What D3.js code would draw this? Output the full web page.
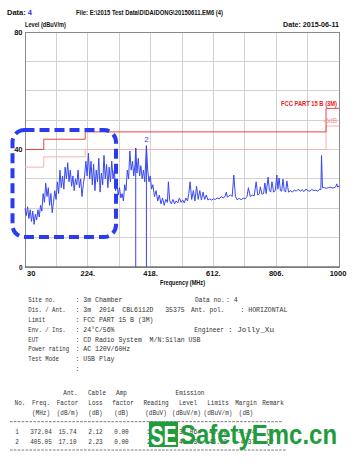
<!DOCTYPE html>
<html>
<head>
<meta charset="utf-8">
<script src="https://cdn.jsdelivr.net/npm/d3@7"></script>
<style>
body { margin: 0; background: #fff; }
svg { display: block; }
</style>
</head>
<body>
<div id="chart"></div>
<script>
// sweep trace (MHz / dBuV/m)
const traceFreq = [30,34,38,42,46,50,54,58,62,66,70,74,78,82,86,90,94,98,102,106,110,114,118,122,126,130,134,138,142,146,150,154,158,162,166,170,174,178,182,186,190,194,198,202,206,210,214,218,222,226,230,234,238,242,246,250,254,258,262,266,270,274,278,282,286,290,294,298,302,306,310,314,318,322,326,330,334,338,342,346,350,354,358,362,366,370,372.04,376,380,384,388,392,396,400,405.05,409,413,417,421,425,430,435,440,445,450,455,460,465,470,473,477,482,487,492,497,502,507,512,517,522,527,532,536,540,545,550,555,560,565,570,575,580,585,590,595,600,606,612,618,624,630,636,642,648,652,655,660,665,670,675,680,686,692,698,704,710,716,720,726,732,738,744,749,754,757,762,767,771,775,781,785,789,793,798,803,808,811,815,819,823,827,831,835,839,844,850,856,862,868,874,880,886,892,898,904,910,916,922,928,934,940,944,946,949,955,961,967,973,979,985,990,993,996,1000];
const traceLevel = [20,17.5,20.5,16.5,19.5,15.5,19,14.5,18,16,19.5,17,21,19,25,22,28.5,24,27,21,25,18.5,22,26,23,29,25,33,27,31,26.5,34,30,35.5,29,33,27.5,31,26,30,28,33,27,30,24,28,31,36,31,38.8,30,36,28,35,26,33,29,37,25.5,32,28,38,30,35,27,34,29,36,30,33,26,29,24.5,27,23.5,25,22.5,28,26,33,30,39.5,33,36,31,35,40.5,32,37,31,34.5,30,33,29,41.3,33,29,31,26.5,28,24,26,22.5,24.5,21.5,23.5,21,23,22,29,22.5,21.5,23,21.5,22.5,21.8,23.5,22,22.8,21.8,23.5,22.5,25,29,23,26,22.5,27.5,23,26,22.8,25.5,23,24.5,22.8,23.2,22.8,23.2,23,23.5,23.2,24,23.5,24,25.5,23.8,24.2,24.5,24,31.3,24,22.8,23.5,22.8,23.5,23.2,24,27,24,24.5,24.2,29,24.5,25,27.3,24.8,25,28.6,25,30.6,26,25.5,29,25.5,26,31.3,26.5,30.3,26,25.8,29.9,26,25.5,29.3,25.5,26,25.5,26.2,25.8,26.5,25.8,26.3,25.7,26.5,26,25.8,26.4,26,26.2,25.8,26.5,26.3,38,27,27,26.8,27,27.2,26.9,27,27.3,28.3,27.2,27.5];

// FCC Part 15 B (3m) limit and the -6 dB line
const limitFreq = [30, 88, 216, 960, 1000];
const limitLevel = [40, 43.5, 46, 54, 54];
const marginLevel = [34, 37.5, 40, 48, 48];

const markerFreq = [372.04, 405.05];
const markerLevel = [40.5, 41.3];

const xTickValues = [30, 224, 418, 612, 806, 1000];
const xTickLabels = ['30', '224.', '418.', '612.', '806.', '1000'];
const xGrid = [127, 224, 321, 418, 515, 612, 709, 806, 903];
const yTickValues = [80, 40, 0];
const yGrid = [10, 20, 30, 40, 50, 60, 70];

const infoLabels = ['Site no.', 'Dis. / Ant.', 'Limit', 'Env. / Ins.', 'EUT', 'Power rating', 'Test Mode', ''];
const infoValues = [': 3m Chamber', ': 3m  2014  CBL6112D   35375', ': FCC PART 15 B (3M)', ': 24\u00b0C/56%', ': CD Radio System  M/N:Silan USB', ': AC 120V/60Hz', ': USB Play', ':'];
const infoRightLabels = ['Data no.', 'Ant. pol.', '', 'Engineer', '', '', '', ''];
const infoRightValues = [': 4', ': HORIZONTAL', '', ': Jolly_Xu', '', '', '', ''];

const headRow1 = ['', '', 'Ant.', 'Cable', 'Amp', '', 'Emission', '', '', ''];
const headRow2 = ['No.', 'Freq.', 'Factor', 'Loss', 'factor', 'Reading', 'Level', 'Limits', 'Margin', 'Remark'];
const headRow3 = ['', '(MHz)', '(dB/m)', '(dB)', '(dB)', '(dBuV)', '(dBuV/m)', '(dBuV/m)', '(dB)', ''];
const rowNo = ['1', '2'];
const rowFreq = ['372.04', '405.05'];
const rowAnt = ['15.74', '17.10'];
const rowCable = ['2.12', '2.23'];
const rowAmp = ['0.00', '0.00'];
const rowReading = ['19.20', '22.30'];
const rowLevel = ['37.06', '41.63'];
const rowLimit = ['46.00', '46.00'];
const rowMargin = ['-8.94', '-4.37'];
const rowRemark = ['QP', 'QP'];

const width = 354, height = 464;
const narrow = "'Liberation Sans Narrow','Arial Narrow','Liberation Sans',sans-serif";
const mono = "'Liberation Mono','DejaVu Sans Mono',monospace";

const svg = d3.select('#chart').append('svg')
    .attr('width', width)
    .attr('height', height);
svg.append('rect').attr('width', width).attr('height', height).attr('fill', '#fff');

const x = d3.scaleLinear().domain([30, 1000]).range([25, 339]);
const y = d3.scaleLinear().domain([0, 80]).range([267, 32]);

// grid
const grid = svg.append('g').attr('stroke', '#d2d2d2').attr('stroke-width', 1).attr('shape-rendering', 'crispEdges');
grid.selectAll('.vx').data(xGrid).enter().append('line')
    .attr('x1', d => x(d)).attr('x2', d => x(d)).attr('y1', y(80)).attr('y2', y(0));
grid.selectAll('.hy').data(yGrid).enter().append('line')
    .attr('x1', x(30)).attr('x2', x(1000)).attr('y1', d => y(d)).attr('y2', d => y(d));

// frame
svg.append('rect')
    .attr('x', x(30)).attr('y', y(80))
    .attr('width', x(1000) - x(30)).attr('height', y(0) - y(80))
    .attr('fill', 'none').attr('stroke', '#8a8a8a').attr('stroke-width', 1)
    .attr('shape-rendering', 'crispEdges');
svg.append('line')
    .attr('x1', x(30)).attr('x2', x(1000)).attr('y1', y(0)).attr('y2', y(0))
    .attr('stroke', '#777').attr('stroke-width', 1.5);

// limit lines
const stepLine = d3.line().curve(d3.curveStepAfter).x(d => x(d[0])).y(d => y(d[1]));
svg.append('path')
    .attr('d', stepLine(d3.zip(limitFreq, marginLevel)))
    .attr('fill', 'none').attr('stroke', '#f6b0b0').attr('stroke-width', 1);
svg.append('path')
    .attr('d', stepLine(d3.zip(limitFreq, limitLevel)))
    .attr('fill', 'none').attr('stroke', '#ec4444').attr('stroke-width', 1);

// trace
const line = d3.line().x(d => x(d[0])).y(d => y(d[1]));
svg.append('path')
    .attr('d', line(d3.zip(traceFreq, traceLevel)))
    .attr('fill', 'none').attr('stroke', '#3848f0').attr('stroke-width', 1)
    .attr('stroke-linejoin', 'round');

// marker lines
svg.selectAll('.mk').data(d3.zip(markerFreq, markerLevel)).enter().append('line')
    .attr('x1', d => x(d[0])).attr('x2', d => x(d[0]))
    .attr('y1', d => y(d[1])).attr('y2', y(0))
    .attr('stroke', '#3848f0').attr('stroke-width', 1);
svg.append('text')
    .attr('x', x(markerFreq[1])).attr('y', y(markerLevel[1]) - 3.5)
    .attr('text-anchor', 'middle')
    .attr('font-family', narrow).attr('font-size', 8)
    .attr('fill', '#3848f0').text('2');

// limit labels
svg.append('text')
    .attr('x', 337).attr('y', y(54) - 2)
    .attr('text-anchor', 'end')
    .attr('font-family', narrow).attr('font-size', 7.5).attr('font-weight', 'bold')
    .attr('fill', '#e82020').attr('textLength', 56).attr('lengthAdjust', 'spacingAndGlyphs')
    .text('FCC PART 15 B (3M)');
svg.append('text')
    .attr('x', 337).attr('y', y(48) - 3)
    .attr('text-anchor', 'end')
    .attr('font-family', narrow).attr('font-size', 6.5)
    .attr('fill', '#f09090')
    .text('-6dB');

// axes labels
const axisText = svg.append('g')
    .attr('font-family', narrow).attr('font-weight', 'bold').attr('font-size', 7.5).attr('fill', '#111');
axisText.selectAll('.yt').data(yTickValues).enter().append('text')
    .attr('x', 22.5).attr('y', d => y(d) + (d === 0 ? 3 : 2.5))
    .attr('text-anchor', 'end')
    .attr('font-size', d => d === 0 ? 6.5 : 7.5)
    .text(d => d);
axisText.selectAll('.xt').data(xTickValues).enter().append('text')
    .attr('x', (d, i) => i === 0 ? x(d) + 2 : (i === xTickValues.length - 1 ? x(d) - 1 : x(d)))
    .attr('y', 275.5)
    .attr('text-anchor', (d, i) => i === 0 ? 'start' : 'middle')
    .text((d, i) => xTickLabels[i]);
axisText.append('text')
    .attr('x', 182.5).attr('y', 284.5).attr('text-anchor', 'middle')
    .attr('textLength', 45).attr('lengthAdjust', 'spacingAndGlyphs')
    .text('Frequency (MHz)');
axisText.append('text')
    .attr('x', 25).attr('y', 27)
    .attr('textLength', 41).attr('lengthAdjust', 'spacingAndGlyphs')
    .text('Level (dBuV/m)');
axisText.append('text')
    .attr('x', 339).attr('y', 27).attr('text-anchor', 'end')
    .attr('textLength', 56).attr('lengthAdjust', 'spacingAndGlyphs')
    .text('Date: 2015-06-11');
const dataLabel = axisText.append('text').attr('x', 7).attr('y', 15);
dataLabel.append('tspan').text('Data: ');
dataLabel.append('tspan').attr('fill', '#2233ee').text('4');
axisText.append('text')
    .attr('x', 76).attr('y', 15)
    .attr('textLength', 147).attr('lengthAdjust', 'spacingAndGlyphs')
    .text('File: E:\\2015 Test Data\\D\\DAIDONG\\20150611.EM6  (4)');

// highlight box
svg.append('rect')
    .attr('x', 12.5).attr('y', 130).attr('width', 103.5).attr('height', 107)
    .attr('rx', 12).attr('ry', 12)
    .attr('fill', 'none').attr('stroke', '#2a3cf2').attr('stroke-width', 4)
    .attr('stroke-dasharray', '10 5');

// report header
const info = svg.append('g')
    .attr('font-family', mono).attr('font-size', 7.5).attr('fill', '#333');
function monoText(g, s, px, py, cw) {
    if (!s) return;
    g.append('text').attr('x', px).attr('y', py).attr('dy', '0.33em')
        .attr('xml:space', 'preserve')
        .attr('textLength', s.length * cw).attr('lengthAdjust', 'spacingAndGlyphs')
        .text(s);
}
const rightLabelX = [195, 191, 0, 194.3];
const rightValueX = [226, 240.5, 0, 228];
infoLabels.forEach((s, i) => {
    const py = 300 + i * 9.8;
    monoText(info, s, 28.3, py, 3.4);
    monoText(info, infoValues[i], 75.5, py, 3.9);
    monoText(info, infoRightLabels[i], rightLabelX[i], py, 3.7);
    monoText(info, infoRightValues[i], rightValueX[i], py, i === 3 ? 4.6 : 3.9);
});

// result table
const colX = [20, 41, 67.5, 95.5, 121.5, 156, 188, 218, 246, 273];
const tbl = svg.append('g')
    .attr('font-family', mono).attr('font-size', 7.5).attr('fill', '#333')
    .attr('text-anchor', 'middle');
function cell(s, cx, py) {
    if (!s) return;
    tbl.append('text').attr('x', cx).attr('y', py).attr('dy', '0.33em')
        .attr('textLength', s.length * 3.6).attr('lengthAdjust', 'spacingAndGlyphs')
        .text(s);
}
headRow1.forEach((s, i) => cell(s, colX[i] + (i === 2 ? 3 : i === 3 ? 1.5 : i === 6 ? 2 : 0), 393));
headRow2.forEach((s, i) => cell(s, colX[i] + (i === 4 ? 1.5 : 0), 402.5));
headRow3.forEach((s, i) => cell(s, colX[i] + (i === 6 ? -1.5 : 0), 412.5));
const rows = d3.zip(rowNo, rowFreq, rowAnt, rowCable, rowAmp, rowReading, rowLevel, rowLimit, rowMargin, rowRemark);
rows.forEach((r, j) => {
    r.forEach((s, i) => cell(s, colX[i] + (i === 0 ? -3 : i === 9 ? -3 : 0), 432 + j * 9.4));
});
[421.7, 450].forEach(py => {
    svg.append('line')
        .attr('x1', 10).attr('x2', py > 440 ? 287 : 283).attr('y1', py).attr('y2', py)
        .attr('stroke', '#555').attr('stroke-width', 0.8).attr('stroke-dasharray', '2.6 1.3');
});

// watermark
svg.append('rect')
    .attr('x', 149).attr('y', 421.5).attr('width', 29).attr('height', 25.5)
    .attr('fill', '#1f9c3c');
svg.append('text')
    .attr('x', 163.5).attr('y', 444.5).attr('text-anchor', 'middle')
    .attr('font-family', "'Liberation Sans',Arial,sans-serif").attr('font-weight', 'bold')
    .attr('font-size', 27).attr('fill', '#fff')
    .attr('textLength', 26).attr('lengthAdjust', 'spacingAndGlyphs')
    .text('SE');
svg.append('text')
    .attr('x', 180).attr('y', 444)
    .attr('font-family', "'Liberation Sans',Arial,sans-serif").attr('font-weight', 'bold')
    .attr('font-size', 28.5).attr('fill', '#1f9c3c')
    .attr('textLength', 157).attr('lengthAdjust', 'spacingAndGlyphs')
    .text('SafetyEmc.cn');
</script>
</body>
</html>
